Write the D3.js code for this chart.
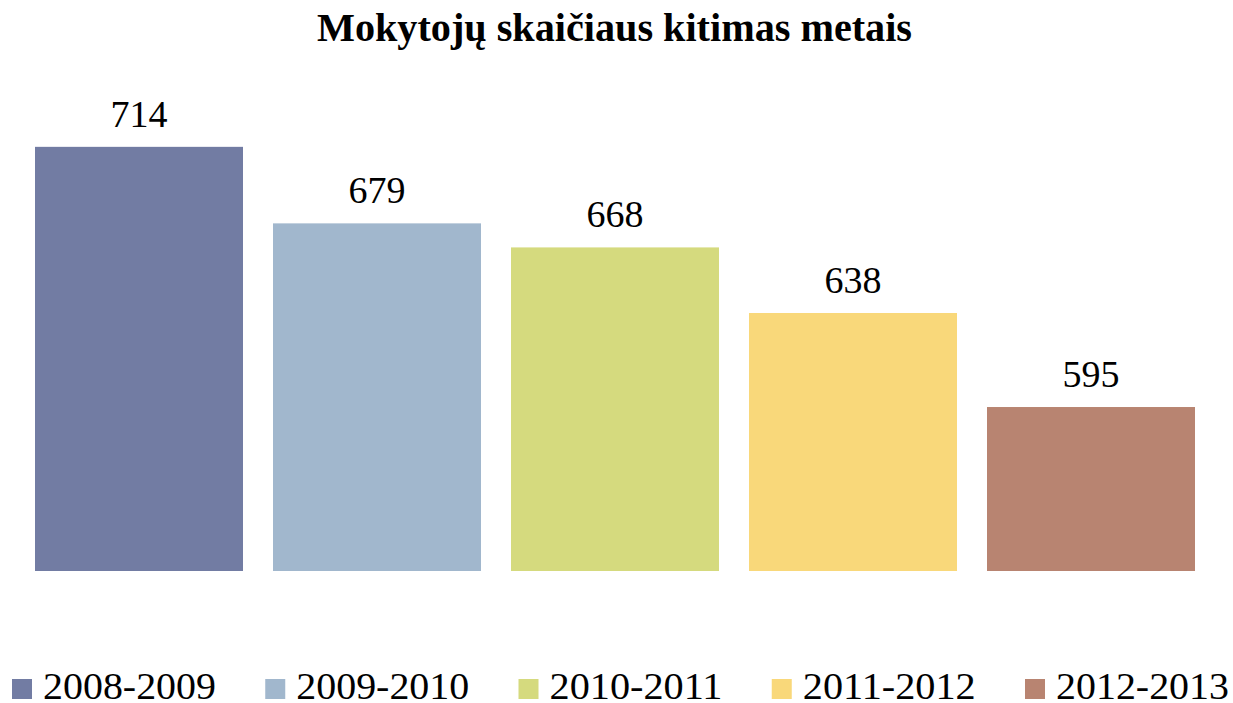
<!DOCTYPE html>
<html>
<head>
<meta charset="utf-8">
<script src="https://cdn.jsdelivr.net/npm/d3@7.9.0/dist/d3.min.js"></script>
<style>
  body { margin: 0; background: #fff; }
  svg { display: block; }
  text { font-family: "Liberation Serif", "DejaVu Serif", serif; fill: #000; }
</style>
</head>
<body>
<svg id="chart" width="1233" height="703"></svg>
<script>
// data
const years = ['2008-2009', '2009-2010', '2010-2011', '2011-2012', '2012-2013'];
const teachers = [714, 679, 668, 638, 595];
const colorList = ['#727CA3', '#A1B7CD', '#D5DA7E', '#F9D87A', '#B88471'];

const svg = d3.select('#chart');

// scales
let x = d3.scaleBand()
    .domain(years)
    .range([20, 1210])
    .paddingInner(30 / 238)
    .paddingOuter(15 / 238);

let y = d3.scaleLinear().domain([520, 740]).range([571, 90]);

let colors = d3.scaleOrdinal().domain(years).range(colorList);

// title
svg.append('text')
    .attr('x', 614.5)
    .attr('y', 41)
    .attr('text-anchor', 'middle')
    .attr('font-size', 40)
    .attr('font-weight', 'bold')
    .attr('textLength', 595)
    .attr('lengthAdjust', 'spacingAndGlyphs')
    .text('Mokytojų skaičiaus kitimas metais');

// bars
svg.selectAll('rect.bar')
    .data(years)
    .join('rect')
    .attr('class', 'bar')
    .attr('x', d => x(d))
    .attr('width', x.bandwidth())
    .attr('y', (d, i) => y(teachers[i]))
    .attr('height', (d, i) => y(520) - y(teachers[i]))
    .attr('fill', d => colors(d));

// value labels
svg.selectAll('text.val')
    .data(years)
    .join('text')
    .attr('class', 'val')
    .attr('x', d => x(d) + x.bandwidth() / 2)
    .attr('y', (d, i) => y(teachers[i]) - 20)
    .attr('text-anchor', 'middle')
    .attr('font-size', 38)
    .text((d, i) => teachers[i]);

// legend
let legendX = d3.scalePoint().domain(years).range([12, 1025]);

let items = svg.selectAll('g.leg')
    .data(years)
    .join('g')
    .attr('class', 'leg')
    .attr('transform', d => `translate(${legendX(d)},679)`);

items.append('rect')
    .attr('width', 20)
    .attr('height', 20)
    .attr('fill', d => colors(d));

items.append('text')
    .attr('x', 31)
    .attr('y', 20)
    .attr('font-size', 38)
    .attr('textLength', 173)
    .attr('lengthAdjust', 'spacingAndGlyphs')
    .text(d => d);
</script>
</body>
</html>
